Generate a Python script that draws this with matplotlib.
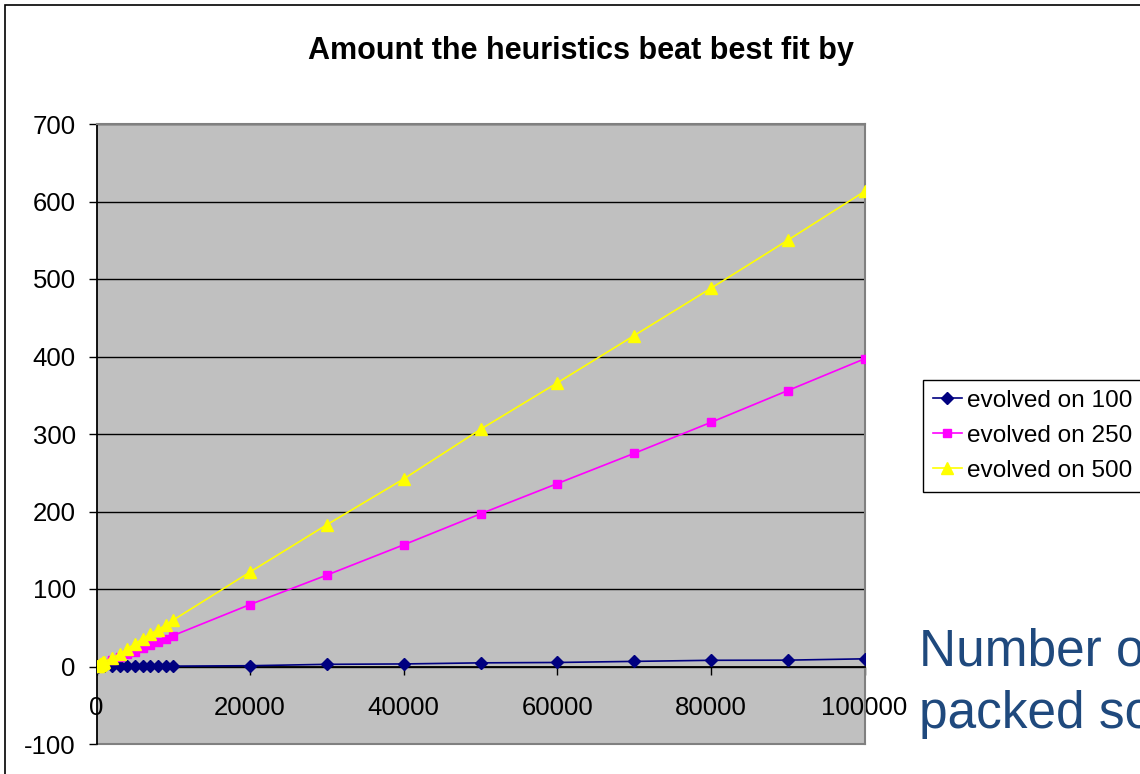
import matplotlib.pyplot as plt
from matplotlib.patches import Rectangle

plt.rcParams['font.family'] = ['Liberation Sans', 'DejaVu Sans']

# data
x_vals = [100, 200, 300, 400, 500, 600, 700, 800, 900, 1000,
          2000, 3000, 4000, 5000, 6000, 7000, 8000, 9000, 10000,
          20000, 30000, 40000, 50000, 60000, 70000, 80000, 90000, 100000]

evolved_100 = [0.0, 0.0, 0.1, 0.1, 0.1, 0.1, 0.1, 0.2, 0.2, 0.2,
               0.2, 0.3, 0.3, 0.3, 0.4, 0.4, 0.4, 0.5, 0.5,
               1.0, 2.8, 3.3, 4.7, 5.2, 6.6, 8.0, 8.2, 9.9]
evolved_250 = [0.4, 0.8, 1.2, 1.6, 2.0, 2.4, 2.8, 3.2, 3.6, 4.0,
               8, 12, 16, 19, 24, 28, 32, 35, 40,
               80, 118, 157, 197, 236, 275, 315, 356, 397]
evolved_500 = [0.6, 1.2, 1.8, 2.4, 3.0, 3.7, 4.3, 4.9, 5.5, 6.1,
               11, 16, 23, 29, 36, 42, 47, 54, 60,
               122, 183, 242, 306, 366, 427, 488, 550, 613]

series_names = ['evolved on 100', 'evolved on 250', 'evolved on 500']
x_ticks = [0, 20000, 40000, 60000, 80000, 100000]
y_ticks = [-100, 0, 100, 200, 300, 400, 500, 600, 700]

fig = plt.figure(figsize=(11.4, 7.74), dpi=100)
fig.patch.set_facecolor('white')

# outer chart border (runs off the right and bottom edge)
fig.add_artist(Rectangle((5 / 1140, -0.5), 2, 1 - 5 / 774 + 0.5,
                         transform=fig.transFigure, fill=False,
                         edgecolor='black', lw=1.2))

ax = fig.add_axes([96.5 / 1140, 1 - 744 / 774, 768 / 1140, 620 / 774])
ax.set_facecolor('#C0C0C0')

ax.plot(x_vals, evolved_100, color='#000080', marker='D', markersize=6,
        lw=1.2, label=series_names[0], zorder=3)
ax.plot(x_vals, evolved_250, color='#FF00FF', marker='s', markersize=6,
        lw=1.2, label=series_names[1], zorder=3)
ax.plot(x_vals, evolved_500, color='#FFFF00', marker='^', markersize=8,
        lw=1.2, label=series_names[2], zorder=3)

ax.set_xlim(0, 100000)
ax.set_ylim(-100, 700)
ax.set_xticks(x_ticks)
ax.set_yticks(y_ticks)
ax.set_xticklabels([str(v) for v in x_ticks])
ax.set_yticklabels([str(v) for v in y_ticks])

ax.grid(axis='y', color='black', lw=1)
ax.set_axisbelow(True)

ax.spines['bottom'].set_position(('data', 0))
ax.spines['bottom'].set_color('black')
ax.spines['bottom'].set_linewidth(1.3)
ax.spines['left'].set_color('black')
ax.spines['left'].set_linewidth(1.3)
for s in ['top', 'right']:
    ax.spines[s].set_color('#808080')
    ax.spines[s].set_linewidth(1.5)
ax.axhline(-100, color='#808080', lw=1.5, clip_on=False)

ax.tick_params(axis='x', direction='out', length=6, width=1, pad=15, labelsize=18.5)
ax.tick_params(axis='y', direction='out', length=6, width=1, pad=9, labelsize=18.5)

fig.text(581 / 1140, 1 - 51 / 774, 'Amount the heuristics beat best fit by',
         ha='center', va='center', fontsize=22, fontweight='bold')

fig.legend(loc='upper left', bbox_to_anchor=(923 / 1140, 1 - 380 / 774),
           borderaxespad=0, fontsize=17.6, frameon=True, fancybox=False,
           edgecolor='black', framealpha=1, handlelength=1.2,
           handletextpad=0.2, labelspacing=0.53, borderpad=0.4)

fig.text(919 / 1140, 1 - 665 / 774, 'Number of', ha='left', va='baseline',
         fontsize=37, color='#1F497D')
fig.text(919 / 1140, 1 - 728 / 774, 'packed so', ha='left', va='baseline',
         fontsize=37, color='#1F497D')

fig.savefig('out.png', dpi=100)
